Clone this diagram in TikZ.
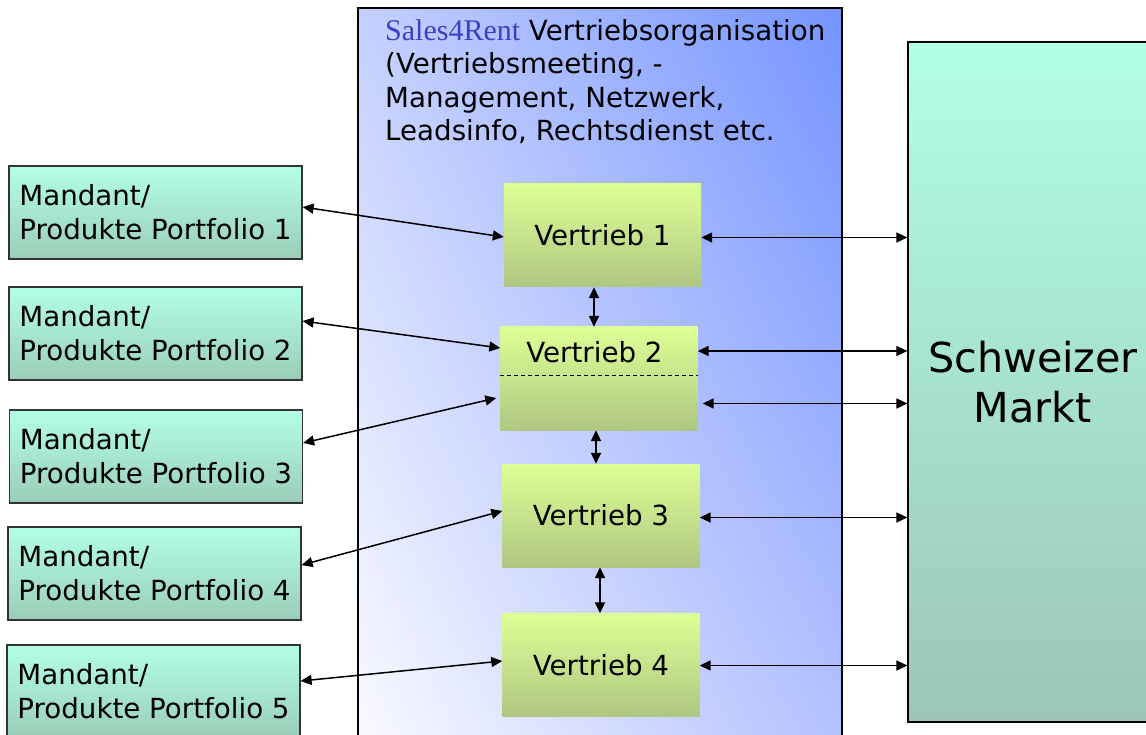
\documentclass[tikz,border=0pt]{standalone}
\usepackage{fontspec}
\setmainfont{DejaVu Sans}
\newfontfamily\salesfont{Liberation Serif}
\usepackage{tikz}
\usepackage{xcolor}
\usetikzlibrary{arrows.meta,shadings}

\definecolor{mintTop}{HTML}{B2FFE4}
\definecolor{mintBot}{HTML}{9BCDB9}
\definecolor{marktBot}{HTML}{9CC5B5}
\definecolor{limeTop}{HTML}{DDFF95}
\definecolor{limeBot}{HTML}{AFC682}
\definecolor{salesBlue}{HTML}{3F3FC4}
\definecolor{orgUL}{HTML}{C4D0FF}
\definecolor{orgUR}{HTML}{7494FF}
\definecolor{orgLL}{HTML}{FAFAFF}
\definecolor{orgLR}{HTML}{B4C2FF}

\tikzset{
  mandant/.style={draw=black!80, line width=1.2pt, top color=mintTop, bottom color=mintBot,
    minimum width=293pt, minimum height=93pt, align=left, font=\fontsize{27.7}{34}\selectfont},
  vertrieb/.style={top color=limeTop, bottom color=limeBot, minimum width=197pt,
    minimum height=103pt, font=\fontsize{27.7}{34}\selectfont},
  pfeil/.style={{Triangle[length=11pt,width=10pt]}-{Triangle[length=11pt,width=10pt]}, line width=1.5pt},
}

\begin{document}
\begin{tikzpicture}[x=1pt,y=-1pt]
        \useasboundingbox (0,0) rectangle (1146,735);
        \clip (0,0) rectangle (1146,735);
        % Vertriebsorganisation
        \draw[line width=1.2pt, upper left=orgUL, upper right=orgUR,
            lower left=orgLL, lower right=orgLR] (358,8) rectangle (842,750);
        \node[anchor=north west, align=left, inner sep=0pt, font=\fontsize{27.7}{33.5}\selectfont] (orgtitle) at (385,19)
            {{\salesfont\fontsize{30}{33.5}\selectfont\color{salesBlue}Sales4Rent} Vertriebsorganisation\\(Vertriebsmeeting, -\\Management, Netzwerk,\\Leadsinfo, Rechtsdienst etc.};
        \node[vertrieb] (v1) at (602.5,235.5) {Vertrieb 1};
        \node[vertrieb] (v2) at (599,378.5) {};
        \node[font=\fontsize{27.7}{34}\selectfont] (v2label) at (594.5,352) {Vertrieb 2};
        \draw[dashed, dash pattern=on 4pt off 3pt, line width=0.8pt] ([yshift=-49pt]v2.north west) -- ([yshift=-49pt]v2.north east);
        \node[vertrieb] (v3) at (601,515.5) {Vertrieb 3};
        \node[vertrieb] (v4) at (601,665) {Vertrieb 4};
        % Markt
        \node[draw, line width=1.2pt, top color=mintTop, bottom color=marktBot, minimum width=250pt,
            minimum height=680pt, align=center, font=\fontsize{41.3}{50}\selectfont] (sm) at (1033,382) {Schweizer\\Markt};
        % Mandanten
        \node[mandant] (m1) at (155.5,212.5) {Mandant/\\Produkte Portfolio 1};
        \node[mandant] (m2) at (155.5,333.5) {Mandant/\\Produkte Portfolio 2};
        \node[mandant] (m3) at (156,456.5) {Mandant/\\Produkte Portfolio 3};
        \node[mandant] (m4) at (154.5,573.5) {Mandant/\\Produkte Portfolio 4};
        \node[mandant] (m5) at (153.5,691.5) {Mandant/\\Produkte Portfolio 5};
        % Pfeile links
        \draw[pfeil] ([yshift=5.5pt]m1.east) -- ([yshift=-1.5pt]v1.west);
        \draw[pfeil] ([yshift=12.5pt]m2.east) -- ([yshift=30.5pt]v2.west);
        \draw[pfeil] ([yshift=13.5pt]m3.east) -- ([yshift=-19.5pt,xshift=-4pt]v2.west);
        \draw[pfeil] ([yshift=8.5pt]m4.east) -- ([yshift=4.5pt]v3.west);
        \draw[pfeil] ([yshift=10.5pt]m5.east) -- ([yshift=4pt]v4.west);
        % Pfeile rechts
        \draw[pfeil] ([yshift=-2pt]v1.east) -- ([yshift=-2pt]v1.east -| sm.west);
        \draw[pfeil] ([yshift=27.5pt]v2.east) -- ([yshift=27.5pt]v2.east -| sm.west);
        \draw[pfeil] ([yshift=-25pt,xshift=5pt]v2.east) -- ([yshift=-25pt]v2.east -| sm.west);
        \draw[pfeil] ([yshift=-2pt]v3.east) -- ([yshift=-2pt]v3.east -| sm.west);
        \draw[pfeil] ([yshift=-0.5pt]v4.east) -- ([yshift=-0.5pt]v4.east -| sm.west);
        % Pfeile senkrecht
        \draw[pfeil] ([xshift=-8.5pt]v1.south) -- ([xshift=-8.5pt]v1.south |- v2.north);
        \draw[pfeil] ([xshift=-3pt]v2.south) -- ([xshift=-3pt]v2.south |- v3.north);
        \draw[pfeil] ([xshift=-1pt]v3.south) -- ([xshift=-1pt]v3.south |- v4.north);
    \end{tikzpicture}
\end{document}
